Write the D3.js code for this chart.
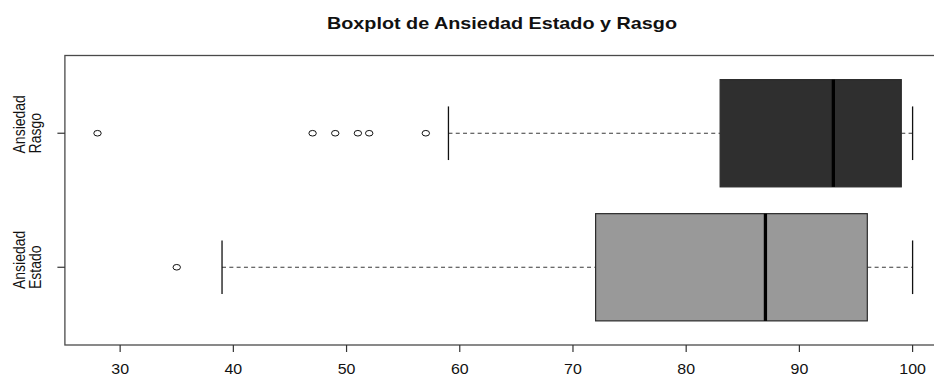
<!DOCTYPE html>
<html>
<head>
<meta charset="utf-8">
<script src="https://cdn.jsdelivr.net/npm/d3@7"></script>
<style>
  html, body { margin: 0; padding: 0; background: #fff; }
  svg { display: block; font-family: "Liberation Sans", Arial, sans-serif; }
</style>
</head>
<body>
<svg id="chart" width="934" height="377"></svg>
<script>
// Group names (bottom to top) as two-line labels
const groups = ["Estado", "Rasgo"];
const groupLabelTop = ["Ansiedad", "Ansiedad"];

// Five-number summaries per group: lower whisker, Q1, median, Q3, upper whisker
const whiskerLow = [39, 59];
const q1 = [72, 83];
const median = [87, 93];
const q3 = [96, 99];
const whiskerHigh = [100, 100];

// Outlying points per group
const outliers = [[35], [28, 47, 49, 51, 52, 57]];

const boxFill = ["#999999", "#2f2f2f"];

// Axis ticks
const xTicks = [30, 40, 50, 60, 70, 80, 90, 100];

const title = "Boxplot de Ansiedad Estado y Rasgo";

// Layout
const frame = { left: 64.9, right: 945.2, top: 55.5, bottom: 345 };
const stretchX = 1.14; // horizontal stretch of glyphs and point symbols

const svg = d3.select("#chart");

const x = d3.scaleLinear().domain([25.12, 102.88]).range([frame.left, frame.right]);
const y = d3.scaleLinear().domain([0.42, 2.58]).range([frame.bottom, frame.top]);

const boxHalf = 0.4;   // half of box thickness in group units
const stapleHalf = 0.2;

const data = groups.map((g, i) => ({
  name: g, top: groupLabelTop[i], pos: i + 1,
  lo: whiskerLow[i], q1: q1[i], med: median[i], q3: q3[i], hi: whiskerHigh[i],
  out: outliers[i], fill: boxFill[i]
}));

const plot = svg.append("g");

const box = plot.selectAll("g.box").data(data).join("g").attr("class", "box");

// Dashed whiskers
box.append("line")
  .attr("x1", d => x(d.lo)).attr("x2", d => x(d.q1))
  .attr("y1", d => y(d.pos)).attr("y2", d => y(d.pos))
  .attr("stroke", "#3a3a3a").attr("stroke-width", 1.1).attr("stroke-dasharray", "4,3.3");
box.append("line")
  .attr("x1", d => x(d.q3)).attr("x2", d => x(d.hi))
  .attr("y1", d => y(d.pos)).attr("y2", d => y(d.pos))
  .attr("stroke", "#3a3a3a").attr("stroke-width", 1.1).attr("stroke-dasharray", "4,3.3");

// Staples
["lo", "hi"].forEach(k => {
  box.append("line")
    .attr("x1", d => x(d[k])).attr("x2", d => x(d[k]))
    .attr("y1", d => y(d.pos + stapleHalf)).attr("y2", d => y(d.pos - stapleHalf))
    .attr("stroke", "#111").attr("stroke-width", 1.3);
});

// Boxes
box.append("rect")
  .attr("x", d => x(d.q1))
  .attr("width", d => x(d.q3) - x(d.q1))
  .attr("y", d => y(d.pos + boxHalf))
  .attr("height", d => y(d.pos - boxHalf) - y(d.pos + boxHalf))
  .attr("fill", d => d.fill)
  .attr("stroke", "#2a2a2a").attr("stroke-width", 1.2);

// Medians
box.append("line")
  .attr("x1", d => x(d.med)).attr("x2", d => x(d.med))
  .attr("y1", d => y(d.pos + boxHalf)).attr("y2", d => y(d.pos - boxHalf))
  .attr("stroke", "#000").attr("stroke-width", 3.3);

// Outliers
box.selectAll("ellipse")
  .data(d => d.out.map(v => ({ v, pos: d.pos })))
  .join("ellipse")
  .attr("cx", o => x(o.v)).attr("cy", o => y(o.pos))
  .attr("rx", 3.0 * stretchX + 0.3).attr("ry", 2.8)
  .attr("fill", "none").attr("stroke", "#111").attr("stroke-width", 1);

// Frame
svg.append("rect")
  .attr("x", frame.left).attr("y", frame.top)
  .attr("width", frame.right - frame.left).attr("height", frame.bottom - frame.top)
  .attr("fill", "none").attr("stroke", "#4a4a4a").attr("stroke-width", 1.3);

// Bottom axis
const xAxis = svg.append("g");
xAxis.selectAll("line").data(xTicks).join("line")
  .attr("x1", d => x(d)).attr("x2", d => x(d))
  .attr("y1", frame.bottom).attr("y2", frame.bottom + 7)
  .attr("stroke", "#333").attr("stroke-width", 1.2);
xAxis.selectAll("text").data(xTicks).join("text")
  .attr("transform", d => `translate(${x(d)},374) scale(${stretchX},1)`)
  .attr("text-anchor", "middle")
  .attr("font-size", 14)
  .attr("fill", "#111")
  .text(d => d);

// Left axis ticks and rotated two-line labels
const yAxis = svg.append("g");
yAxis.selectAll("line").data(data).join("line")
  .attr("x1", frame.left - 7.5).attr("x2", frame.left)
  .attr("y1", d => y(d.pos)).attr("y2", d => y(d.pos))
  .attr("stroke", "#333").attr("stroke-width", 1.2);

data.forEach(d => {
  const cy = y(d.pos);
  const line2 = yAxis.append("text")
    .attr("font-size", 14).attr("fill", "#111")
    .attr("text-anchor", "start")
    .text(d.name);
  const w = line2.node().getComputedTextLength();
  const startY = cy + w / 2;
  line2.attr("transform", `translate(41,${startY}) scale(1.2,1) rotate(-90)`);
  yAxis.append("text")
    .attr("font-size", 14).attr("fill", "#111")
    .attr("text-anchor", "start")
    .attr("transform", `translate(25,${startY}) scale(1.2,1) rotate(-90)`)
    .text(d.top);
});

// Title
svg.append("text")
  .attr("transform", `translate(502,28.5) scale(1.2,1)`)
  .attr("text-anchor", "middle")
  .attr("font-size", 16.5)
  .attr("font-weight", "bold")
  .attr("fill", "#111")
  .text(title);
</script>
</body>
</html>
